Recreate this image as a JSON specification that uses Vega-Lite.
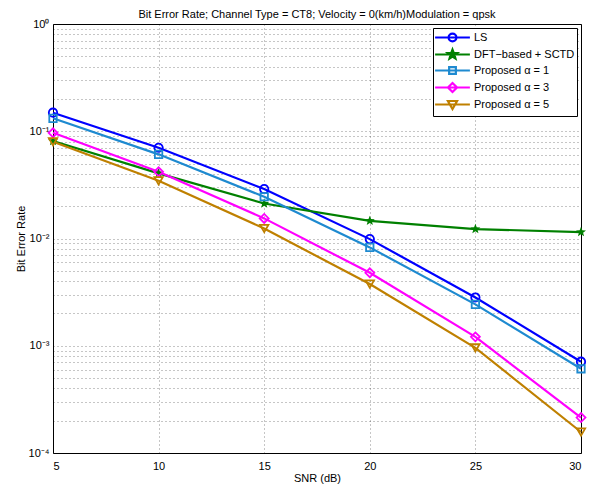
{
  "$schema": "https://vega.github.io/schema/vega-lite/v6.json",
  "width": 528,
  "height": 429,
  "autosize": {"type": "none"},
  "padding": {"left": 53, "top": 24, "right": 23, "bottom": 36},
  "background": "white",
  "config": {
    "font": "Liberation Sans",
    "view": {"stroke": "black", "strokeWidth": 1},
    "axis": {"labelFont": "Liberation Sans", "titleFont": "Liberation Sans", "labelFontSize": 11, "titleFontSize": 11, "titleFontWeight": "normal", "labelColor": "black", "titleColor": "black", "domainColor": "black", "tickColor": "black", "gridColor": "black", "gridDash": [1, 3], "gridOpacity": 0.45, "gridWidth": 1}
  },
  "title": {"text": "Bit Error Rate; Channel Type = CT8; Velocity = 0(km/h)Modulation = qpsk", "fontSize": 11, "fontWeight": "normal", "font": "Liberation Sans", "offset": -2, "color": "black"},
  "data": {"values": [
    {"snr": 5, "ber": 0.149, "series": "LS"},
    {"snr": 10, "ber": 0.0702, "series": "LS"},
    {"snr": 15, "ber": 0.0289, "series": "LS"},
    {"snr": 20, "ber": 0.00987, "series": "LS"},
    {"snr": 25, "ber": 0.00282, "series": "LS"},
    {"snr": 30, "ber": 0.00071, "series": "LS"},
    {"snr": 5, "ber": 0.081, "series": "DFT−based + SCTD"},
    {"snr": 10, "ber": 0.0405, "series": "DFT−based + SCTD"},
    {"snr": 15, "ber": 0.0212, "series": "DFT−based + SCTD"},
    {"snr": 20, "ber": 0.0146, "series": "DFT−based + SCTD"},
    {"snr": 25, "ber": 0.01225, "series": "DFT−based + SCTD"},
    {"snr": 30, "ber": 0.01148, "series": "DFT−based + SCTD"},
    {"snr": 5, "ber": 0.132, "series": "Proposed α = 1"},
    {"snr": 10, "ber": 0.0609, "series": "Proposed α = 1"},
    {"snr": 15, "ber": 0.0245, "series": "Proposed α = 1"},
    {"snr": 20, "ber": 0.00826, "series": "Proposed α = 1"},
    {"snr": 25, "ber": 0.00243, "series": "Proposed α = 1"},
    {"snr": 30, "ber": 0.00061, "series": "Proposed α = 1"},
    {"snr": 5, "ber": 0.0968, "series": "Proposed α = 3"},
    {"snr": 10, "ber": 0.0419, "series": "Proposed α = 3"},
    {"snr": 15, "ber": 0.0154, "series": "Proposed α = 3"},
    {"snr": 20, "ber": 0.00479, "series": "Proposed α = 3"},
    {"snr": 25, "ber": 0.00121, "series": "Proposed α = 3"},
    {"snr": 30, "ber": 0.000214, "series": "Proposed α = 3"},
    {"snr": 5, "ber": 0.0798, "series": "Proposed α = 5"},
    {"snr": 10, "ber": 0.0345, "series": "Proposed α = 5"},
    {"snr": 15, "ber": 0.0124, "series": "Proposed α = 5"},
    {"snr": 20, "ber": 0.00376, "series": "Proposed α = 5"},
    {"snr": 25, "ber": 0.000955, "series": "Proposed α = 5"},
    {"snr": 30, "ber": 0.000157, "series": "Proposed α = 5"}
  ]},
  "encoding": {
    "x": {"field": "snr", "type": "quantitative", "scale": {"domain": [5, 30], "nice": false, "zero": false},
      "axis": {"title": "SNR (dB)", "values": [5, 10, 15, 20, 25, 30], "tickSize": 0, "labelPadding": 7, "titlePadding": 1, "domain": false}},
    "y": {"field": "ber", "type": "quantitative", "scale": {"type": "log", "domain": [0.0001, 1], "nice": false},
      "axis": {"title": "Bit Error Rate", "tickSize": 0, "labelPadding": 4, "titlePadding": 2, "domain": false,
        "values": [0.0001, 0.0002, 0.0003, 0.0004, 0.0005, 0.0006, 0.0007, 0.0008, 0.0009, 0.001, 0.002, 0.003, 0.004, 0.005, 0.006, 0.007, 0.008, 0.009, 0.01, 0.02, 0.03, 0.04, 0.05, 0.06, 0.07, 0.08, 0.09, 0.1, 0.2, 0.3, 0.4, 0.5, 0.6, 0.7, 0.8, 0.9, 1],
        "labelExpr": "abs(log(datum.value)/LN10 - round(log(datum.value)/LN10)) < 0.000001 ? (round(log(datum.value)/LN10) == -4 ? '10⁻⁴' : round(log(datum.value)/LN10) == -3 ? '10⁻³' : round(log(datum.value)/LN10) == -2 ? '10⁻²' : round(log(datum.value)/LN10) == -1 ? '10⁻¹' : '10⁰') : ''"}},
    "color": {"field": "series", "type": "nominal",
      "scale": {"domain": ["LS", "DFT−based + SCTD", "Proposed α = 1", "Proposed α = 3", "Proposed α = 5"], "range": ["#0000FF", "#008000", "#1E8AD0", "#FF00FF", "#BF8000"]}}
  },
  "layer": [
    {
      "mark": {"type": "line", "strokeWidth": 2.2},
      "encoding": {
        "color": {"field": "series", "type": "nominal",
          "scale": {"domain": ["LS", "DFT−based + SCTD", "Proposed α = 1", "Proposed α = 3", "Proposed α = 5"], "range": ["#0000FF", "#008000", "#1E8AD0", "#FF00FF", "#BF8000"]},
          "legend": {"title": null, "orient": "top-right", "offset": 4, "strokeColor": "black", "fillColor": "white", "padding": 2,
            "labelFont": "Liberation Sans", "labelFontSize": 11, "labelColor": "black", "symbolSize": 144, "symbolStrokeWidth": 2.2, "rowPadding": -1, "labelOffset": 14, "symbolOffset": 10,
            "encode": {"symbols": {"update": {
              "shape": {"signal": "datum.value === 'LS' ? 'M-2.9,0H2.9M-0.65,0A0.65,0.65 0 1 1 0.65,0A0.65,0.65 0 1 1 -0.65,0' : datum.value === 'Proposed α = 1' ? 'M-2.9,0H2.9M-0.56,-0.56H0.56V0.56H-0.56Z' : datum.value === 'Proposed α = 3' ? 'M-2.9,0H2.9M0,-0.76L0.76,0L0,0.76L-0.76,0Z' : datum.value === 'Proposed α = 5' ? 'M-2.9,0H2.9M-0.76,-0.58H0.76L0,0.76Z' : 'M-2.9,0H2.9M0,-0.83L0.208,-0.285L0.79,-0.257L0.336,0.109L0.49,0.673L0,0.352L-0.49,0.673L-0.336,0.109L-0.79,-0.257L-0.208,-0.285Z'"},
              "fill": {"signal": "datum.value === 'DFT−based + SCTD' ? '#008000' : 'white'"},
              "fillOpacity": {"signal": "datum.value === 'DFT−based + SCTD' ? 1 : 0"},
              "strokeWidth": {"value": 2.2}
            }}}}
        }
      }
    },
    {
      "transform": [{"filter": "datum.series === 'LS'"}],
      "mark": {"type": "point", "shape": "circle", "filled": false, "strokeWidth": 1.8, "size": 70, "opacity": 1},
      "encoding": {"color": {"field": "series", "type": "nominal", "legend": null}}
    },
    {
      "transform": [{"filter": "datum.series === 'DFT−based + SCTD'"}],
      "mark": {"type": "point", "shape": "M0,-1L0.249,-0.342L0.951,-0.309L0.404,0.131L0.588,0.809L0,0.423L-0.588,0.809L-0.404,0.131L-0.951,-0.309L-0.249,-0.342Z", "filled": true, "size": 110, "opacity": 1},
      "encoding": {"color": {"field": "series", "type": "nominal", "legend": null}}
    },
    {
      "transform": [{"filter": "datum.series === 'Proposed α = 1'"}],
      "mark": {"type": "point", "shape": "square", "filled": false, "strokeWidth": 1.8, "size": 55, "opacity": 1},
      "encoding": {"color": {"field": "series", "type": "nominal", "legend": null}}
    },
    {
      "transform": [{"filter": "datum.series === 'Proposed α = 3'"}],
      "mark": {"type": "point", "shape": "diamond", "filled": false, "strokeWidth": 1.8, "size": 80, "opacity": 1},
      "encoding": {"color": {"field": "series", "type": "nominal", "legend": null}}
    },
    {
      "transform": [{"filter": "datum.series === 'Proposed α = 5'"}],
      "mark": {"type": "point", "shape": "triangle-down", "filled": false, "strokeWidth": 1.8, "size": 70, "opacity": 1},
      "encoding": {"color": {"field": "series", "type": "nominal", "legend": null}}
    }
  ]
}
